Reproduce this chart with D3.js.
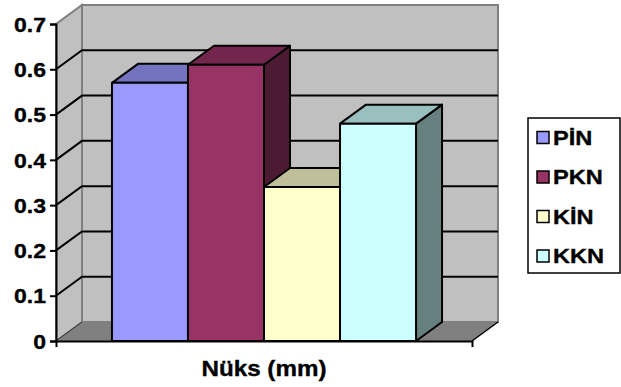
<!DOCTYPE html>
<html>
<head>
<meta charset="utf-8">
<script src="https://cdn.jsdelivr.net/npm/d3@7"></script>
<style>
  html, body { margin: 0; padding: 0; background: #fff; }
  svg { display: block; }
  text { font-family: "Liberation Sans", Arial, sans-serif; font-weight: bold; fill: #000; stroke: #000; stroke-width: 0.35px; }
</style>
</head>
<body>
<svg id="chart" width="621" height="387"></svg>
<script>
// Category, series and values
const category = "Nüks (mm)";
const seriesNames = ["PİN", "PKN", "KİN", "KKN"];
const seriesValues = [0.57, 0.61, 0.34, 0.48];
const frontColors = ["#9999FF", "#993366", "#FFFFCC", "#CCFFFF"];
const yTicks = [0, 0.1, 0.2, 0.3, 0.4, 0.5, 0.6, 0.7];
const yTickLabels = ["0", "0.1", "0.2", "0.3", "0.4", "0.5", "0.6", "0.7"];

(function draw() {
  const svg = d3.select("#chart");

  // 3D depth offset of the plot box
  const depthX = 26, depthY = -19;
  const plotLeft = 56, plotRight = 472, plotBottom = 341, plotTop = 24;

  const y = d3.scaleLinear().domain([0, 0.7]).range([plotBottom, plotTop]);
  const xCat = d3.scaleBand().domain([category]).range([plotLeft, plotRight])
    .paddingInner(0).paddingOuter(0.184);
  const xSer = d3.scaleBand().domain(seriesNames).range([0, xCat.bandwidth()]).padding(0);

  const shade = (c, k) => {
    const r = d3.rgb(c);
    return d3.rgb(r.r * k, r.g * k, r.b * k).formatHex();
  };
  const poly = pts => pts.map(p => p.join(",")).join(" ");
  // widen text glyphs horizontally (wide bold face)
  const widen = (sel, k) => sel.each(function () {
    const w = this.getComputedTextLength();
    d3.select(this).attr("textLength", w * k).attr("lengthAdjust", "spacingAndGlyphs");
  });

  const yMax = y(0.7), y0 = y(0);

  // Side wall
  svg.append("polygon")
    .attr("points", poly([[plotLeft, y0], [plotLeft, yMax], [plotLeft + depthX, yMax + depthY], [plotLeft + depthX, y0 + depthY]]))
    .attr("fill", "#C0C0C0").attr("stroke", "#808080").attr("stroke-width", 2);
  // Back wall
  svg.append("polygon")
    .attr("points", poly([[plotLeft + depthX, yMax + depthY], [plotRight + depthX, yMax + depthY], [plotRight + depthX, y0 + depthY], [plotLeft + depthX, y0 + depthY]]))
    .attr("fill", "#C0C0C0").attr("stroke", "#808080").attr("stroke-width", 2);
  // Floor
  svg.append("polygon")
    .attr("points", poly([[plotLeft, y0], [plotLeft + depthX, y0 + depthY], [plotRight + depthX, y0 + depthY], [plotRight, y0]]))
    .attr("fill", "#808080").attr("stroke", "none");
  svg.append("line")
    .attr("x1", plotRight).attr("y1", y0).attr("x2", plotRight + depthX).attr("y2", y0 + depthY)
    .attr("stroke", "#000").attr("stroke-width", 1.5);
  svg.append("line")
    .attr("x1", plotLeft).attr("y1", y0).attr("x2", plotLeft + depthX).attr("y2", y0 + depthY)
    .attr("stroke", "#333").attr("stroke-width", 1);

  // Gridlines on side and back walls
  const grid = svg.append("g");
  yTicks.filter(v => v > 0 && v < 0.7).forEach(v => {
    grid.append("polyline")
      .attr("points", poly([[plotLeft, y(v)], [plotLeft + depthX, y(v) + depthY], [plotRight + depthX, y(v) + depthY]]))
      .attr("fill", "none").attr("stroke", "#000").attr("stroke-width", 2);
  });

  // Bars (side, top and front faces)
  const bars = svg.append("g");
  seriesNames.forEach((name, i) => {
    const v = seriesValues[i];
    const x0 = xCat(category) + xSer(name);
    const x1 = x0 + xSer.bandwidth();
    const yv = y(v);
    const g = bars.append("g").attr("stroke", "#000").attr("stroke-width", 2).attr("stroke-linejoin", "round");
    g.append("polygon")
      .attr("points", poly([[x1, yv], [x1 + depthX, yv + depthY], [x1 + depthX, y0 + depthY], [x1, y0]]))
      .attr("fill", shade(frontColors[i], 0.5));
    g.append("polygon")
      .attr("points", poly([[x0, yv], [x0 + depthX, yv + depthY], [x1 + depthX, yv + depthY], [x1, yv]]))
      .attr("fill", shade(frontColors[i], 0.75));
    g.append("rect")
      .attr("x", x0).attr("y", yv).attr("width", x1 - x0).attr("height", y0 - yv)
      .attr("fill", frontColors[i]);
  });

  // Value axis
  const yAxis = d3.axisLeft(y).tickValues(yTicks).tickSize(6).tickPadding(4)
    .tickFormat((d, i) => yTickLabels[i]);
  const ya = svg.append("g").attr("transform", `translate(${plotLeft},0)`).call(yAxis);
  ya.select(".domain").attr("stroke", "#000").attr("stroke-width", 2);
  ya.selectAll(".tick line").attr("stroke", "#000").attr("stroke-width", 2);
  ya.selectAll(".tick text").attr("font-size", 20).attr("font-family", "Liberation Sans, Arial, sans-serif")
    .attr("font-weight", "bold").attr("fill", "#000").attr("dy", "0.36em").call(widen, 1.15);

  // Category axis
  const xAxis = d3.axisBottom(xCat).tickValues([]).tickSizeOuter(6);
  const xa = svg.append("g").attr("transform", `translate(0,${plotBottom})`).call(xAxis);
  xa.select(".domain").attr("stroke", "#000").attr("stroke-width", 2);
  svg.append("text")
    .attr("x", xCat(category) + xCat.bandwidth() / 2).attr("y", 376)
    .attr("text-anchor", "middle").attr("font-size", 22)
    .text(category).call(widen, 1.1);

  // Legend
  const legend = svg.append("g").attr("transform", "translate(528,118)");
  legend.append("rect").attr("x", 0).attr("y", 0).attr("width", 92).attr("height", 155)
    .attr("fill", "#fff").attr("stroke", "#000").attr("stroke-width", 1.5);
  seriesNames.forEach((name, i) => {
    const row = legend.append("g").attr("transform", `translate(0,${19 + i * 39.5})`);
    row.append("rect").attr("x", 9).attr("y", -5.5).attr("width", 12).attr("height", 12)
      .attr("fill", frontColors[i]).attr("stroke", "#000").attr("stroke-width", 1.5);
    row.append("text").attr("x", 25).attr("y", 7.5).attr("font-size", 20).text(name).call(widen, 1.18);
  });
})();
</script>
</body>
</html>
